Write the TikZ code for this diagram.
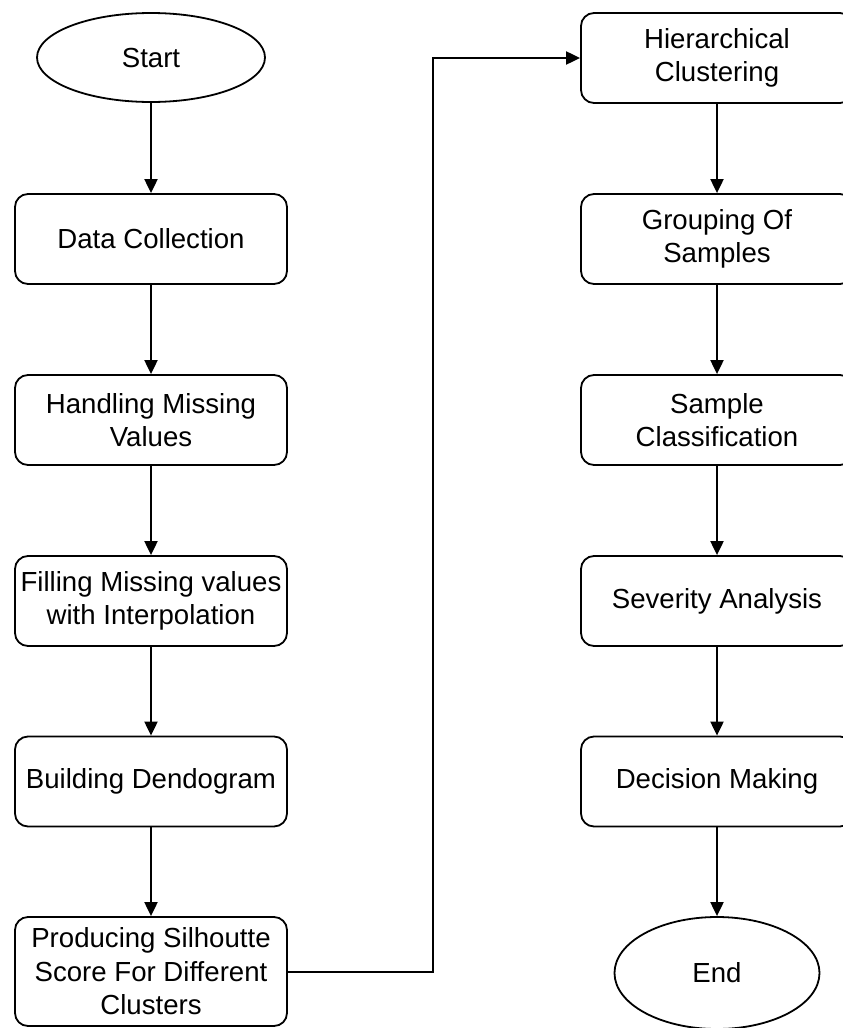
\documentclass[tikz,border=0pt]{standalone}
\usepackage{fontspec}
\setmainfont{Liberation Sans}
\usetikzlibrary{arrows.meta,shapes.geometric}
\begin{document}
\begin{tikzpicture}[x=1pt,y=-1pt,
  txt/.style={font=\fontsize{27.6}{33.5}\selectfont, align=center, inner sep=0pt},
  box/.style={txt, draw, line width=1.8pt, rounded corners=13pt, minimum width=272pt, minimum height=90pt},
  term/.style={txt, draw, ellipse, line width=1.8pt},
  arr/.style={line width=2pt, -{Triangle[length=14pt,width=13pt]}}]
\useasboundingbox (0,0) rectangle (843,1028);
\clip (0,0) rectangle (843,1028);
% left column
\node[term, minimum width=228pt, minimum height=89pt] (start) at (151,57.5) {Start};
\node[box] (dc) at (151,239) {Data Collection};
\node[box] (hm) at (151,420) {Handling Missing\\Values};
\node[box] (fm) at (151,601) {Filling Missing values\\with Interpolation};
\node[box] (bd) at (151,781.5) {Building Dendogram};
\node[box, minimum height=109pt] (ps) at (151,971.5) {Producing Silhoutte\\Score For Different\\Clusters};
% right column
\node[box] (hc) at (717,58) {Hierarchical\\Clustering};
\node[box] (gs) at (717,239) {Grouping Of\\Samples};
\node[box] (sc) at (717,420) {Sample\\Classification};
\node[box] (sa) at (717,601) {Severity Analysis};
\node[box] (dm) at (717,781.5) {Decision Making};
\node[term, minimum width=205pt, minimum height=112pt] (end) at (717,973) {End};
% connectors
\draw[arr] (start) -- (dc);
\draw[arr] (dc) -- (hm);
\draw[arr] (hm) -- (fm);
\draw[arr] (fm) -- (bd);
\draw[arr] (bd) -- (ps);
\coordinate (turn) at (433,0);
\draw[arr] (ps.east) -| (turn |- ps.east) |- (hc.west);
\draw[arr] (hc) -- (gs);
\draw[arr] (gs) -- (sc);
\draw[arr] (sc) -- (sa);
\draw[arr] (sa) -- (dm);
\draw[arr] (dm) -- (end);
\end{tikzpicture}
\end{document}
